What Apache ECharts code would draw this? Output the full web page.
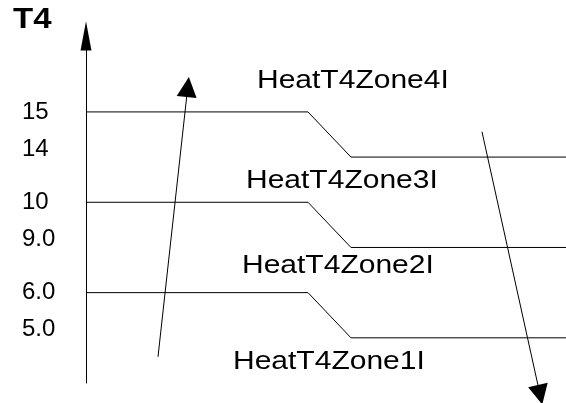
<!DOCTYPE html>
<html>
<head>
<meta charset="utf-8">
<script src="https://cdn.jsdelivr.net/npm/echarts@6/dist/echarts.min.js"></script>
<style>
  html, body { margin: 0; padding: 0; background: #fff; }
  #main { width: 566px; height: 403px; }
</style>
</head>
<body>
<div id="main"></div>
<script>
// T4 threshold levels, bottom to top (tick labels)
var levelLabels = ['5.0', '6.0', '9.0', '10', '14', '15'];
// each step line: [upper level index, lower level index]
var stepLevels = [[1, 0], [3, 2], [5, 4]];
// x along each step: start, ramp start, ramp end, right edge
var stepX = [0, 46.25, 55.2, 100];
var zoneNames = ['HeatT4Zone1I', 'HeatT4Zone2I', 'HeatT4Zone3I', 'HeatT4Zone4I'];
// rising / falling arrows, [x, level] pairs
var riseArrow = [[15, -0.42], [21.2, 5.55]];
var fallArrow = [[82.5, 4.56], [94.6, -1.26]];

var FONT = 'Liberation Sans';

function stepData(pair) {
    return [
        [stepX[0], pair[0]],
        [stepX[1], pair[0]],
        [stepX[2], pair[1]],
        [stepX[3], pair[1]]
    ];
}

var series = stepLevels.map(function (pair) {
    return {
        type: 'line',
        data: stepData(pair),
        symbol: 'none',
        silent: true,
        lineStyle: { color: '#000', width: 1 }
    };
});

series.push({
    type: 'lines',
    coordinateSystem: 'cartesian2d',
    clip: false,
    silent: true,
    symbol: ['none', 'triangle'],
    symbolSize: [0, 20],
    lineStyle: { color: '#000', width: 1, opacity: 1, curveness: 0 },
    data: [{ coords: riseArrow }, { coords: fallArrow }]
});

// label boxes for the zone names (left x, middle y in px); the source text is drawn wide
var zonePos = [[233, 362], [242, 266], [246, 181], [257, 81]];

var graphics = [{
    type: 'text',
    x: 13, y: 20,
    scaleX: 1.1,
    style: { text: 'T4', font: 'bold 30px ' + FONT, fill: '#000', verticalAlign: 'middle' }
}];
zoneNames.forEach(function (name, i) {
    graphics.push({
        type: 'text',
        x: zonePos[i][0], y: zonePos[i][1],
        scaleX: 1.2,
        style: { text: name, font: '25px ' + FONT, fill: '#000', verticalAlign: 'middle' }
    });
});

var myChart = echarts.init(document.getElementById('main'));
myChart.setOption({
    animation: false,
    backgroundColor: '#fff',
    grid: { left: 86, right: 0, top: 36, bottom: 20 },
    xAxis: {
        type: 'value',
        min: 0,
        max: 100,
        show: false
    },
    yAxis: {
        type: 'value',
        min: -1,
        max: 6.68,
        interval: 1,
        splitLine: { show: false },
        axisTick: { show: false },
        axisLine: {
            show: true,
            lineStyle: { color: '#000', width: 1 },
            symbol: ['none', 'triangle'],
            symbolSize: [11, 29]
        },
        axisLabel: {
            align: 'left',
            margin: 64,
            fontSize: 24,
            fontFamily: FONT,
            color: '#000',
            showMaxLabel: false,
            formatter: function (v) {
                var i = Math.round(v);
                if (Math.abs(v - i) > 1e-6 || !levelLabels[i]) return '';
                // lower level of each pair sits a little above its line
                return i % 2 === 0 ? levelLabels[i] + '\n ' : levelLabels[i];
            },
            lineHeight: 16
        }
    },
    graphic: graphics,
    series: series
});
</script>
</body>
</html>
